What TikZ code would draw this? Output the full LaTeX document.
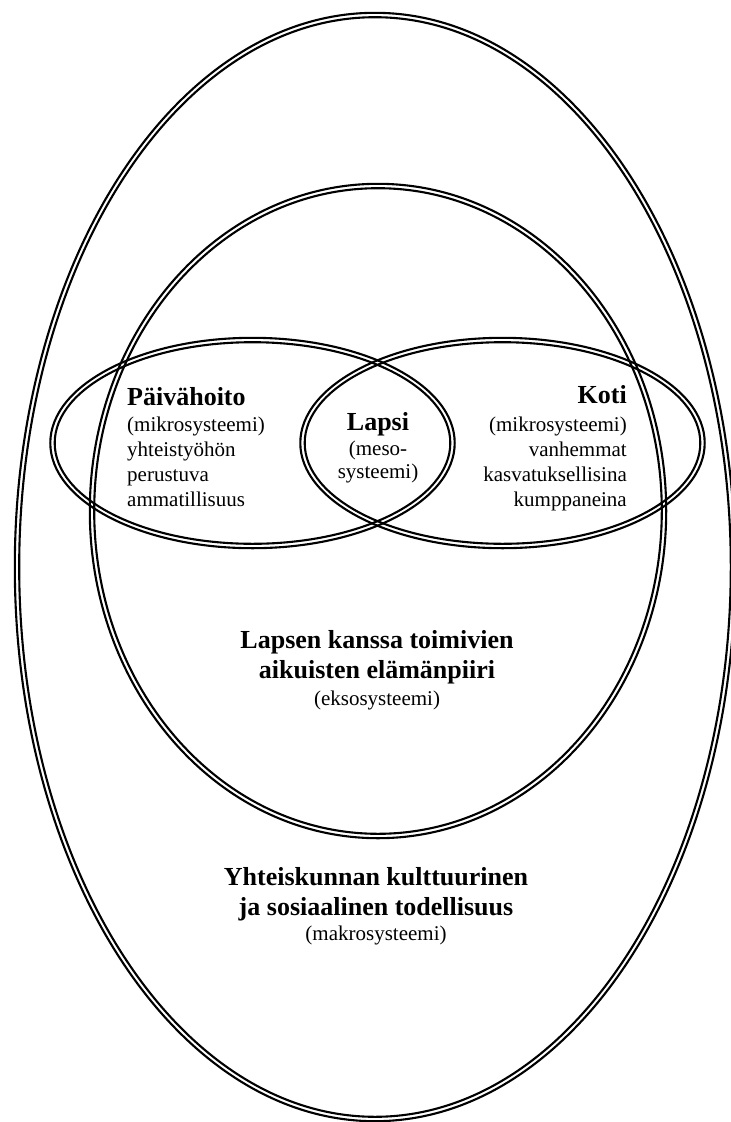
\documentclass[tikz,border=0pt]{standalone}
\usepackage{fontspec}
\setmainfont{Liberation Serif}
\begin{document}
\begin{tikzpicture}[x=1pt, y=-1pt,
  rim/.style={draw=black, line width=2.1pt},
  title/.style={font=\fontsize{26}{30}\selectfont\bfseries, inner sep=0pt},
  body/.style={font=\fontsize{21}{25}\selectfont, inner sep=0pt}]
\useasboundingbox (0,0) rectangle (731,1122);

% centres of the nested systems
\coordinate (makro) at (375,567);
\coordinate (ekso)  at (378,511);
\coordinate (paiva) at (252.5,443);
\coordinate (koti)  at (502.5,443);

% each system is bounded by a double line: two thin concentric ellipses
\foreach \d in {-2.2,2.2} {
  \draw[rim] (makro) ellipse [x radius={358+\d}, y radius={552+\d}];
  \draw[rim] (ekso)  ellipse [x radius={286+\d}, y radius={325+\d}];
  \draw[rim] (paiva) ellipse [x radius={200+\d}, y radius={103+\d}];
  \draw[rim] (koti)  ellipse [x radius={200+\d}, y radius={103+\d}];
}

% multi-line nodes are placed by the baseline of their last line

% microsystem: day care
\node[title, anchor=base west] (paivaT) at (127,405) {Päivähoito};
\node[body, anchor=base west, align=left] (paivaB) at (127,506)
  {(mikrosysteemi)\\yhteistyöhön\\perustuva\\ammatillisuus};

% microsystem: home
\node[title, anchor=base east] (kotiT) at (627,403) {Koti};
\node[body, anchor=base east, align=right] (kotiB) at (627,506)
  {(mikrosysteemi)\\vanhemmat\\kasvatuksellisina\\kumppaneina};

% mesosystem: the child
\node[title, anchor=base] (lapsiT) at (378,430) {Lapsi};
\node[body, anchor=base, align=center, font=\fontsize{21}{23}\selectfont] (lapsiB) at (378,478)
  {(meso-\\systeemi)};

% exosystem
\node[title, anchor=base, align=center] (eksoT) at (377,678)
  {Lapsen kanssa toimivien\\aikuisten elämänpiiri};
\node[body, anchor=base] (eksoB) at (377,705) {(eksosysteemi)};

% macrosystem
\node[title, anchor=base, align=center] (makroT) at (376,915)
  {Yhteiskunnan kulttuurinen\\ja sosiaalinen todellisuus};
\node[body, anchor=base] (makroB) at (376,940) {(makrosysteemi)};
\end{tikzpicture}
\end{document}
